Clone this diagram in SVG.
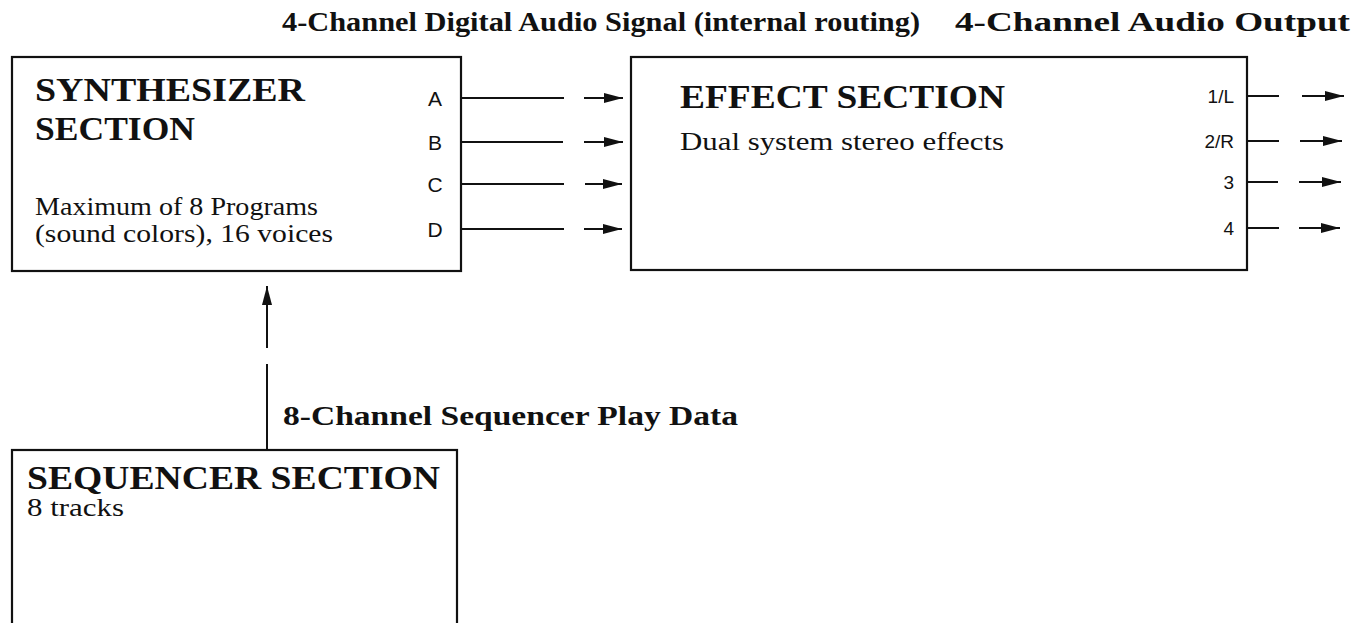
<svg xmlns="http://www.w3.org/2000/svg" width="1355" height="623" viewBox="0 0 1355 623">
<style>
.box{fill:none;stroke:#111;stroke-width:2.2}
.ln{fill:none;stroke:#111;stroke-width:2}
.title{font-family:"Liberation Serif","Times New Roman",serif;font-weight:bold;font-size:34px;fill:#111}
.body{font-family:"Liberation Serif","Times New Roman",serif;font-size:26px;fill:#111}
.hdr{font-family:"Liberation Serif","Times New Roman",serif;font-weight:bold;font-size:27px;fill:#111}
.port{font-family:"Liberation Sans",Arial,sans-serif;font-size:21px;fill:#111}
.port2{font-family:"Liberation Sans",Arial,sans-serif;font-size:19px;fill:#111}
</style>
<defs>
<marker id="ah" markerUnits="userSpaceOnUse" markerWidth="20" markerHeight="12" refX="19" refY="6" orient="auto">
<path d="M0,1 L19,6 L0,11 z" fill="#111"/>
</marker>
</defs>
<rect width="1355" height="623" fill="#fff"/>

<g id="labels">
<text class="hdr" x="282" y="31" textLength="638" lengthAdjust="spacingAndGlyphs">4-Channel Digital Audio Signal (internal routing)</text>
<text class="hdr" x="955" y="31" textLength="395" lengthAdjust="spacingAndGlyphs">4-Channel Audio Output</text>
<text class="hdr" x="283" y="425" textLength="455" lengthAdjust="spacingAndGlyphs">8-Channel Sequencer Play Data</text>
</g>

<g id="synthesizer">
<rect class="box" x="12" y="57" width="449" height="214"/>
<text class="title" x="35" y="101" textLength="270" lengthAdjust="spacingAndGlyphs">SYNTHESIZER</text>
<text class="title" x="35" y="140" textLength="160" lengthAdjust="spacingAndGlyphs">SECTION</text>
<text class="body" x="35" y="215" textLength="283" lengthAdjust="spacingAndGlyphs">Maximum of 8 Programs</text>
<text class="body" x="35" y="242" textLength="298" lengthAdjust="spacingAndGlyphs">(sound colors), 16 voices</text>
<text class="port" x="435" y="106" text-anchor="middle">A</text>
<text class="port" x="435" y="150" text-anchor="middle">B</text>
<text class="port" x="435" y="192" text-anchor="middle">C</text>
<text class="port" x="435" y="237" text-anchor="middle">D</text>
</g>

<g id="effect">
<rect class="box" x="631" y="57" width="616" height="213"/>
<text class="title" x="680" y="108" textLength="325" lengthAdjust="spacingAndGlyphs">EFFECT SECTION</text>
<text class="body" x="680" y="150" textLength="324" lengthAdjust="spacingAndGlyphs">Dual  system stereo effects</text>
<text class="port2" x="1234" y="103" text-anchor="end">1/L</text>
<text class="port2" x="1234" y="148" text-anchor="end">2/R</text>
<text class="port2" x="1234" y="189" text-anchor="end">3</text>
<text class="port2" x="1234" y="235" text-anchor="end">4</text>
</g>

<g id="sequencer">
<rect class="box" x="12" y="450" width="445" height="190"/>
<text class="title" x="27" y="489" textLength="413" lengthAdjust="spacingAndGlyphs">SEQUENCER SECTION</text>
<text class="body" x="27" y="516" textLength="97" lengthAdjust="spacingAndGlyphs" style="font-size:25px">8 tracks</text>
</g>

<g id="connectors">
<line class="ln" x1="462" y1="98" x2="564" y2="98"/>
<line class="ln" x1="584" y1="98" x2="623" y2="98" marker-end="url(#ah)"/>
<line class="ln" x1="462" y1="142" x2="563" y2="142"/>
<line class="ln" x1="584" y1="142" x2="623" y2="142" marker-end="url(#ah)"/>
<line class="ln" x1="462" y1="184" x2="564" y2="184"/>
<line class="ln" x1="585" y1="184" x2="622" y2="184" marker-end="url(#ah)"/>
<line class="ln" x1="462" y1="229" x2="564" y2="229"/>
<line class="ln" x1="584" y1="229" x2="622" y2="229" marker-end="url(#ah)"/>

<line class="ln" x1="1248" y1="96" x2="1279" y2="96"/>
<line class="ln" x1="1302" y1="96" x2="1344" y2="96" marker-end="url(#ah)"/>
<line class="ln" x1="1248" y1="141" x2="1279" y2="141"/>
<line class="ln" x1="1300" y1="141" x2="1342" y2="141" marker-end="url(#ah)"/>
<line class="ln" x1="1248" y1="182" x2="1278" y2="182"/>
<line class="ln" x1="1299" y1="182" x2="1341" y2="182" marker-end="url(#ah)"/>
<line class="ln" x1="1248" y1="228" x2="1279" y2="228"/>
<line class="ln" x1="1299" y1="228" x2="1340" y2="228" marker-end="url(#ah)"/>

<line class="ln" x1="267" y1="450" x2="267" y2="364"/>
<line class="ln" x1="267" y1="348" x2="267" y2="286" marker-end="url(#ah)"/>
</g>
</svg>
